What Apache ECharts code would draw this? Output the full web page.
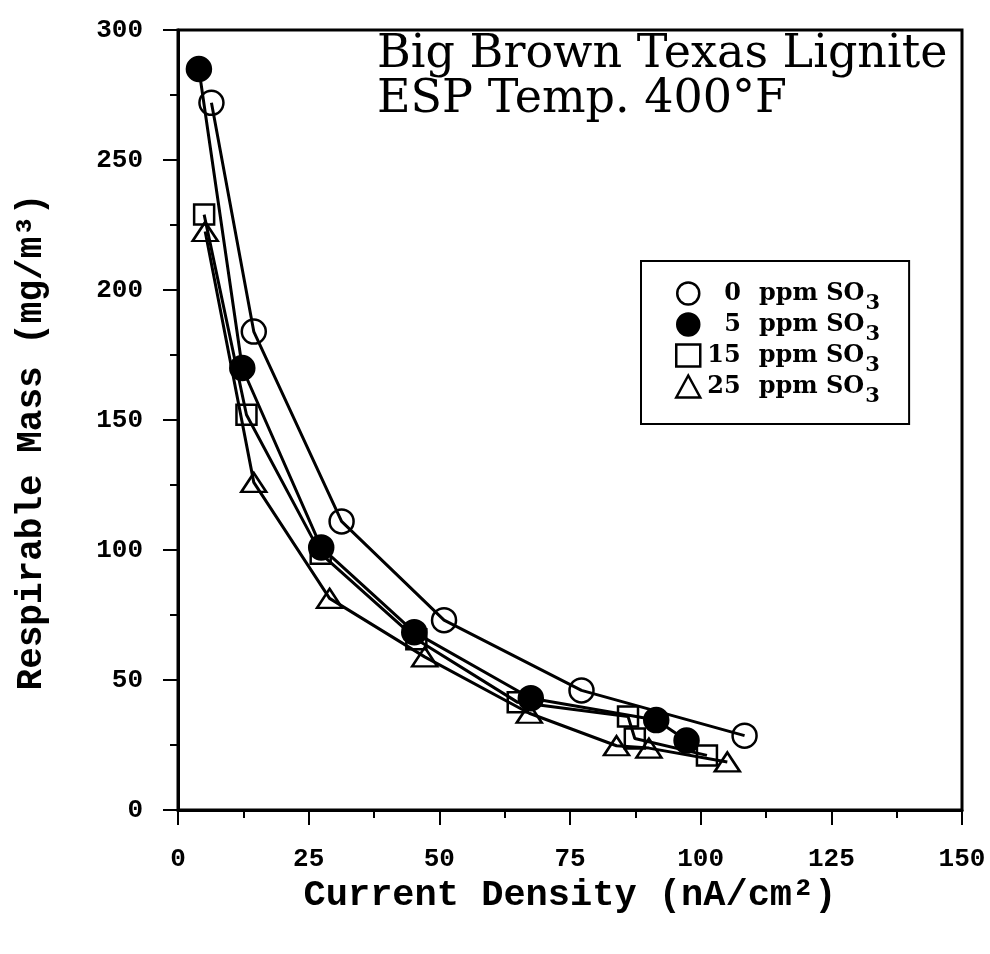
<!DOCTYPE html>
<html lang="en">
<head>
<meta charset="UTF-8">
<title>Respirable Mass vs Current Density</title>
<script src="https://cdn.jsdelivr.net/npm/echarts@6/dist/echarts.min.js"></script>
<style>
  html, body { margin: 0; padding: 0; background: #fff; }
  #chart { width: 990px; height: 954px; }
</style>
</head>
<body>
<div id="chart"></div>
<script>
// values: [current density nA/cm2, respirable mass mg/m3]
var ppm0 = [[6.4, 272], [14.5, 184], [31.3, 111], [50.9, 73], [77.2, 46], [108.4, 28.6]];
var ppm5 = [[4.0, 285], [12.3, 170], [27.4, 101], [45.2, 68.4], [67.5, 43], [91.5, 34.6], [97.3, 26.7]];
var ppm15 = [[5.0, 229], [13.1, 152], [27.3, 98.6], [45.6, 65.7], [65.0, 41.4], [86.1, 36], [87.4, 27.5], [101.2, 21]];
var ppm25 = [[5.2, 222.5], [14.5, 126], [29.0, 81.4], [47.2, 58.9], [67.2, 37.2], [83.9, 24.7], [90.1, 23.8], [105.1, 18.5]];

var seriesNames = ['0 ppm SO3', '5 ppm SO3', '15 ppm SO3', '25 ppm SO3'];
var titleLines = ['Big Brown Texas Lignite', 'ESP Temp. 400°F'];
var xName = 'Current Density (nA/cm²)';
var yName = 'Respirable Mass (mg/m³)';

var mono = 'Liberation Mono';
var serif = 'DejaVu Serif';

function makeSeries(name, data, symbol, size, filled) {
    return {
        name: name,
        type: 'line',
        data: data,
        symbol: symbol,
        symbolSize: size,
        lineStyle: { color: '#000', width: 3 },
        itemStyle: {
            color: filled ? '#000' : 'transparent',
            borderColor: '#000',
            borderWidth: 2.5
        },
        emphasis: { disabled: true },
        z: 3
    };
}

var legendText = { fontFamily: serif, fontWeight: 'bold', fontSize: 24, lineHeight: 23, color: '#000' };

var chart = echarts.init(document.getElementById('chart'));
var option = {
    animation: false,
    backgroundColor: '#fff',
    title: {
        text: titleLines.join('\n'),
        left: 372,
        top: 28,
        textStyle: {
            fontFamily: serif,
            fontWeight: 'normal',
            fontSize: 46,
            lineHeight: 45,
            color: '#000'
        }
    },
    grid: {
        left: 178, right: 28, top: 30, bottom: 144,
        show: true, borderColor: '#000', borderWidth: 3
    },
    legend: {
        orient: 'vertical',
        left: 641,
        top: 261,
        padding: [12, 29, 17, 34],
        itemGap: -10,
        itemWidth: 24,
        itemHeight: 22,
        borderColor: '#000',
        borderWidth: 2,
        backgroundColor: '#fff',
        selectedMode: false,
        itemStyle: { borderWidth: 2.5, borderColor: '#000' },
        data: [
            { name: seriesNames[0], icon: 'circle' },
            { name: seriesNames[1], icon: 'circle' },
            { name: seriesNames[2], icon: 'rect' },
            { name: seriesNames[3], icon: 'triangle' }
        ],
        formatter: function (name) {
            var parts = name.split(' ');
            var numStyle = parts[0].length > 1 ? 'nn' : 'n';
            return '{' + numStyle + '|' + parts[0] + '}{t|' + parts[1] + ' SO}{s|3}';
        },
        textStyle: {
            rich: {
                n: Object.assign({ padding: [0, 0, 0, 19] }, legendText),
                nn: Object.assign({ padding: [0, 0, 0, 2] }, legendText),
                t: Object.assign({ padding: [0, 0, 0, 18] }, legendText),
                s: { fontFamily: serif, fontWeight: 'bold', fontSize: 21, lineHeight: 23, padding: [20, 0, 0, 1], color: '#000' }
            }
        }
    },
    xAxis: {
        type: 'value',
        min: 0, max: 150, interval: 25,
        name: xName,
        nameLocation: 'middle',
        nameGap: 64,
        nameTextStyle: { fontFamily: mono, fontWeight: 'bold', fontSize: 37, color: '#000' },
        axisLine: { lineStyle: { color: '#000', width: 3 } },
        axisTick: { length: 15, lineStyle: { color: '#000', width: 2 } },
        minorTick: { show: true, splitNumber: 2, length: 8, lineStyle: { color: '#000', width: 2 } },
        axisLabel: { margin: 36, fontFamily: mono, fontWeight: 'bold', fontSize: 26, color: '#000' },
        splitLine: { show: false }
    },
    yAxis: {
        type: 'value',
        min: 0, max: 300, interval: 50,
        name: yName,
        nameLocation: 'middle',
        nameGap: 128,
        nameTextStyle: { fontFamily: mono, fontWeight: 'bold', fontSize: 36, color: '#000', padding: [0, 44, 0, 0] },
        axisLine: { show: true, lineStyle: { color: '#000', width: 3 } },
        axisTick: { show: true, length: 15, lineStyle: { color: '#000', width: 2 } },
        minorTick: { show: true, splitNumber: 2, length: 8, lineStyle: { color: '#000', width: 2 } },
        axisLabel: { margin: 35, fontFamily: mono, fontWeight: 'bold', fontSize: 26, color: '#000' },
        splitLine: { show: false }
    },
    series: [
        makeSeries(seriesNames[0], ppm0, 'circle', 24, false),
        makeSeries(seriesNames[1], ppm5, 'circle', 24, true),
        makeSeries(seriesNames[2], ppm15, 'rect', 20, false),
        makeSeries(seriesNames[3], ppm25, 'triangle', [25, 19], false)
    ]
};
chart.setOption(option);
</script>
</body>
</html>
